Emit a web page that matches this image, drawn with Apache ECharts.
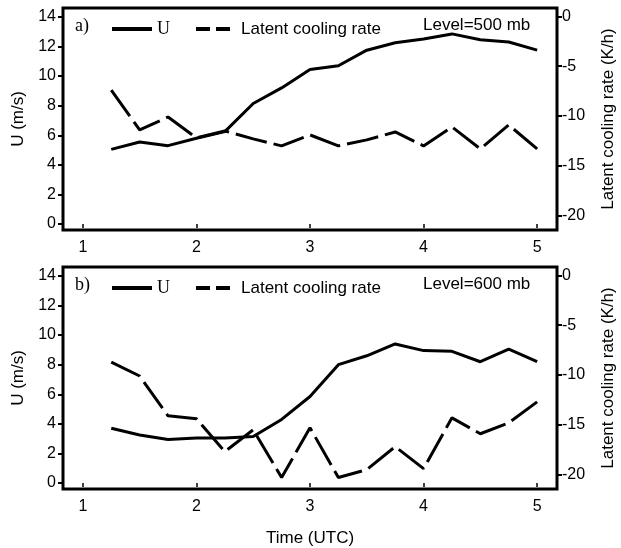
<!DOCTYPE html>
<html>
<head>
<meta charset="utf-8">
<script src="https://cdn.jsdelivr.net/npm/echarts@6/dist/echarts.min.js"></script>
<style>
  html, body { margin: 0; padding: 0; background: #fff; }
  #chart { width: 621px; height: 548px; }
</style>
</head>
<body>
<div id="chart"></div>
<script>
// time axis (UTC)
const times = [1.25, 1.5, 1.75, 2, 2.25, 2.5, 2.75, 3, 3.25, 3.5, 3.75, 4, 4.25, 4.5, 4.75, 5]
// a) 500 mb
const u500 = [5.05, 5.55, 5.3, 5.8, 6.25, 8.15, 9.2, 10.45, 10.7, 11.75, 12.25, 12.5, 12.85, 12.45, 12.3, 11.75]
const lcr500 = [-7.4, -11.4, -10.1, -12.2, -11.5, -12.3, -13.0, -11.9, -13.0, -12.4, -11.6, -13.0, -11.1, -13.3, -10.9, -13.3]
// b) 600 mb
const u600 = [3.7, 3.25, 2.95, 3.05, 3.05, 3.15, 4.3, 5.85, 8.0, 8.6, 9.4, 8.95, 8.9, 8.2, 9.05, 8.2]
const lcr600 = [-8.7, -10.1, -14.1, -14.4, -17.7, -15.5, -20.3, -15.3, -20.3, -19.5, -17.2, -19.4, -14.3, -15.9, -14.8, -12.7]

const xTicks = [1, 2, 3, 4, 5]
const uTicks = [0, 2, 4, 6, 8, 10, 12, 14]
const lcrTicks = [-20, -15, -10, -5, 0]
const panels = [
    { tag: 'a)', level: 'Level=500 mb', u: u500, lcr: lcr500 },
    { tag: 'b)', level: 'Level=600 mb', u: u600, lcr: lcr600 }
]

const sans = 'Liberation Sans, Arial, sans-serif'
const serif = 'Liberation Serif, Times New Roman, serif'
const gridTops = [8, 267]
const boxH = 222

const pair = (ys) => times.map((t, i) => [t, ys[i]])

const myChart = echarts.init(document.getElementById('chart'))

const grid = [], xAxis = [], yAxis = [], series = [], legend = [], graphic = []

panels.forEach((p, k) => {
    grid.push({
        left: 63, right: 64, top: gridTops[k], height: boxH,
        containLabel: false, outerBoundsMode: 'none',
        show: true, borderColor: '#000', borderWidth: 3
    })
    xAxis.push({
        type: 'value', gridIndex: k, min: 0.825, max: 5.175,
        axisLine: { show: false },
        axisTick: { show: true, length: 4, lineStyle: { color: '#000', width: 1.5 }, customValues: xTicks },
        axisLabel: { color: '#000', fontSize: 16, fontFamily: sans, margin: 10, customValues: xTicks },
        splitLine: { show: false },
        name: k === 1 ? 'Time (UTC)' : '',
        nameLocation: 'middle', nameGap: 41,
        nameTextStyle: { color: '#000', fontSize: 17, fontFamily: sans }
    })
    yAxis.push({
        type: 'value', gridIndex: k, position: 'left', min: -0.4, max: 14.6,
        axisLine: { show: false },
        axisTick: { show: true, length: 5, lineStyle: { color: '#000', width: 2 }, customValues: uTicks },
        axisLabel: { color: '#000', fontSize: 16, fontFamily: sans, margin: 7, customValues: uTicks },
        splitLine: { show: false },
        name: 'U (m/s)', nameLocation: 'middle', nameRotate: 90, nameGap: 22,
        nameTextStyle: { color: '#000', fontSize: 17, fontFamily: sans }
    })
    yAxis.push({
        type: 'value', gridIndex: k, position: 'right', min: -21.45, max: 0.85,
        axisLine: { show: false },
        axisTick: { show: true, length: 5, lineStyle: { color: '#000', width: 2 }, customValues: lcrTicks },
        axisLabel: { color: '#000', fontSize: 16, fontFamily: sans, margin: 5, customValues: lcrTicks },
        splitLine: { show: false },
        name: 'Latent cooling rate (K/h)', nameLocation: 'middle', nameRotate: 90, nameGap: 43,
        nameTextStyle: { color: '#000', fontSize: 17, fontFamily: sans }
    })
    series.push({
        name: 'U', type: 'line', xAxisIndex: k, yAxisIndex: 2 * k,
        symbol: 'none', animation: false, color: '#000',
        lineStyle: { color: '#000', width: 3 },
        data: pair(p.u)
    })
    series.push({
        name: 'Latent cooling rate', type: 'line', xAxisIndex: k, yAxisIndex: 2 * k + 1,
        symbol: 'none', animation: false, color: '#000',
        lineStyle: { color: '#000', width: 3, type: [32, 7] },
        data: pair(p.lcr)
    })
    legend.push({
        left: 110, top: gridTops[k] + 12, itemWidth: 40, itemHeight: 14, itemGap: 24,
        padding: 0, selectedMode: false,
        itemStyle: { opacity: 0, color: 'transparent', borderWidth: 0 },
        data: [
            { name: 'U', lineStyle: { width: 4 }, textStyle: { fontFamily: serif, fontSize: 18, color: '#000' } },
            { name: 'Latent cooling rate', lineStyle: { width: 4, type: [14, 6] }, textStyle: { fontFamily: sans, fontSize: 17, color: '#000' } }
        ]
    })
    graphic.push({
        type: 'text', left: 75, top: gridTops[k] + 9,
        style: { text: p.tag, font: '18px ' + serif, fill: '#000' }
    })
    graphic.push({
        type: 'text', left: 423, top: gridTops[k] + 9,
        style: { text: p.level, font: '17px ' + sans, fill: '#000' }
    })
})

myChart.setOption({
    animation: false,
    grid, xAxis, yAxis, series, legend, graphic
})
</script>
</body>
</html>
